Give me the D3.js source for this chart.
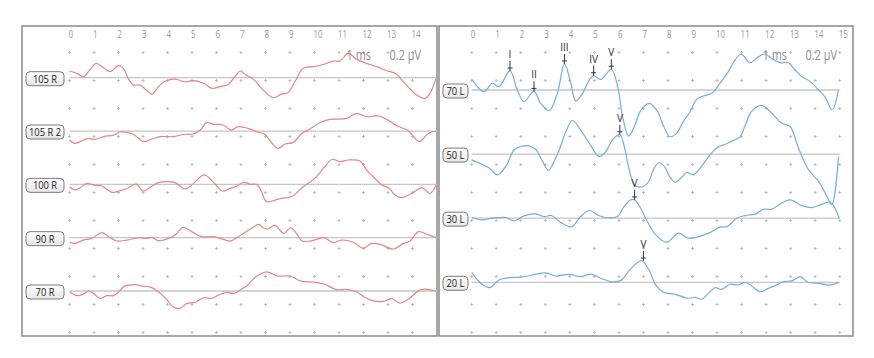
<!DOCTYPE html>
<html><head><meta charset="utf-8">
<script src="https://cdn.jsdelivr.net/npm/d3@7"></script>
<style>html,body{margin:0;padding:0;background:#fff;}svg{display:block;}</style>
</head><body>
<svg id="chart" width="874" height="358"></svg>
<script>
// ---------- DATA ----------
const leftLabels  = ["105 R", "105 R 2", "100 R", "90 R", "70 R"];
const rightLabels = ["70 L", "50 L", "30 L", "20 L"];
const leftTicks  = [0,1,2,3,4,5,6,7,8,9,10,11,12,13,14];
const rightTicks = [0,1,2,3,4,5,6,7,8,9,10,11,12,13,14,15];
const scaleText = ["1 ms", "0.2 µV"];

// times (ms) and amplitudes (µV) for each trace
const r105Time = [0,0.3,0.57,0.82,1.09,1.39,1.66,1.99,2.2,2.41,2.61,2.88,3.13,3.36,3.63,3.91,4.31,4.72,5.06,5.47,5.81,6.14,6.48,6.75,6.96,7.2,7.5,7.84,8.31,8.65,8.92,9.2,9.54,9.95,10.43,10.77,11.04,11.38,11.72,12.13,12.54,12.95,13.29,13.69,14.17,14.51,14.71,14.96];
const r105Amp  = [0.048,0.031,0.007,0.055,0.102,0.071,0.043,0.086,0.067,-0.01,-0.052,-0.052,-0.088,-0.117,-0.064,-0.024,-0.01,-0.029,-0.021,-0.04,-0.076,-0.064,-0.048,0.007,0.048,0.019,-0.01,-0.076,-0.143,-0.117,-0.105,-0.029,0.067,0.079,0.098,0.119,0.119,0.174,0.131,0.102,0.079,0.05,0.031,-0.04,-0.124,-0.148,-0.112,-0.005];

const r105bTime = [0,0.23,0.57,0.78,1.05,1.39,1.8,2.07,2.34,2.59,2.82,3.02,3.36,3.7,4.25,4.65,5.06,5.34,5.6,5.88,6.28,6.6,6.89,7.37,7.64,7.98,8.21,8.5,8.8,9.13,9.48,9.75,10.22,10.63,11.31,11.72,12.13,12.6,12.95,13.36,13.83,14.28,14.64,14.96];
const r105bAmp  = [-0.064,-0.088,-0.064,-0.052,-0.06,-0.04,-0.029,-0.005,-0.012,-0.021,-0.052,-0.076,-0.057,-0.04,-0.04,-0.024,-0.021,0.007,0.06,0.048,0.043,0.007,0.031,0.014,-0.005,-0.024,-0.076,-0.124,-0.093,-0.081,-0.017,0.007,0.059,0.083,0.09,0.126,0.102,0.109,0.083,0.038,0.002,-0.076,-0.017,0];

const r100Time = [0,0.23,0.44,0.71,0.98,1.32,1.73,2.07,2.41,2.72,3.02,3.32,3.63,3.97,4.31,4.72,5.06,5.5,5.88,6.26,6.56,6.83,7.1,7.4,7.64,7.84,8.04,8.52,9.13,9.54,10.01,10.42,10.72,11.04,11.38,11.86,12.13,12.47,12.75,13.02,13.29,13.56,13.97,14.38,14.52,14.72,14.97];
const r100Amp  = [-0.017,-0.04,-0.024,0.007,-0.005,-0.012,-0.057,-0.045,-0.024,0.002,-0.048,-0.017,0.012,0.019,0.012,-0.033,0.007,0.067,0.014,-0.048,-0.029,-0.012,0.014,0,0,-0.052,-0.124,-0.105,-0.081,-0.017,0.043,0.126,0.179,0.162,0.174,0.167,0.102,0.043,-0.005,-0.024,-0.076,-0.095,-0.064,-0.024,-0.04,-0.064,-0.005];

const r90Time = [0,0.23,0.57,0.91,1.32,1.6,1.94,2.34,2.82,3.16,3.36,3.63,3.97,4.31,4.65,4.99,5.4,5.88,6.28,6.56,6.83,7.1,7.43,7.73,7.9,8.1,8.38,8.58,8.75,9.03,9.26,9.5,9.81,10.08,10.4,10.76,11.1,11.58,11.99,12.33,12.74,13.22,13.63,13.9,14.25,14.59,14.97];
const r90Amp  = [-0.033,-0.041,-0.017,-0.005,0.036,0.007,-0.024,-0.017,0,-0.005,0.002,-0.021,-0.01,0.019,0.074,0.043,0.007,0.007,-0.012,-0.024,0,0.031,0.067,0.095,0.071,0.062,0.09,0.055,0.031,0.071,0.031,-0.024,-0.024,-0.012,0,-0.036,-0.017,-0.033,-0.076,-0.041,-0.052,-0.081,-0.041,-0.024,0.043,0.024,0];

const r70Time = [0,0.3,0.55,0.78,0.97,1.25,1.52,1.8,1.99,2.23,2.68,3.02,3.29,3.63,3.95,4.22,4.52,4.79,5.13,5.47,5.81,6.09,6.43,6.7,6.96,7.24,7.6,8.05,8.5,9.0,9.45,10.0,10.4,10.9,11.31,11.7,12.05,12.4,12.81,13.15,13.5,13.85,14.35,14.96];
const r70Amp  = [-0.005,-0.033,-0.024,0,-0.017,-0.052,-0.033,-0.033,-0.01,0.033,0.045,0.033,0.029,-0.005,-0.057,-0.112,-0.124,-0.088,-0.081,-0.048,-0.052,-0.029,-0.01,-0.017,0.007,0.038,0.1,0.136,0.107,0.107,0.07,0.064,0.05,0.01,0.012,-0.005,-0.045,-0.071,-0.074,-0.055,-0.086,-0.055,0.01,0];

const l70Time = [0,0.5,0.84,1.11,1.56,1.86,2.13,2.54,2.81,3.15,3.49,3.78,4.04,4.24,4.52,4.79,4.97,5.27,5.69,5.95,6.15,6.4,6.63,6.9,7.24,7.58,7.8,8.08,8.35,8.62,8.9,9.17,9.44,9.78,10.12,10.46,10.73,10.98,11.35,11.69,11.96,12.23,12.57,12.91,13.18,13.46,13.8,14.14,14.41,14.69,14.95];
const l70Amp  = [0.076,-0.012,0.048,0.024,0.136,0,-0.083,-0.01,-0.095,-0.148,-0.024,0.186,0.048,-0.079,-0.024,0.071,0.102,0.076,0.148,0.024,-0.19,-0.33,-0.26,-0.143,-0.095,-0.155,-0.25,-0.333,-0.31,-0.226,-0.155,-0.067,-0.043,-0.024,0.048,0.131,0.214,0.257,0.195,0.238,0.257,0.226,0.195,0.195,0.143,0.095,0.06,0,-0.052,-0.143,0];

const l50Time = [0,0.37,0.71,1.05,1.39,1.73,2.0,2.34,2.62,2.89,3.13,3.36,3.57,3.84,4.11,4.45,4.79,5.2,5.47,5.74,6.04,6.22,6.42,6.63,6.83,7.17,7.44,7.65,7.9,8.05,8.29,8.56,8.76,9.03,9.37,9.71,10.05,10.39,10.66,10.93,11.14,11.41,11.82,12.16,12.64,12.98,13.32,13.73,14.14,14.48,14.68,14.95];
const l50Amp  = [-0.041,-0.069,-0.1,-0.148,-0.088,0.031,0.054,0.059,0.031,-0.052,-0.117,-0.052,0.031,0.161,0.24,0.169,0.079,-0.017,0.019,0.102,0.138,0.054,-0.112,-0.219,-0.236,-0.207,-0.1,-0.06,-0.1,-0.155,-0.2,-0.167,-0.131,-0.148,-0.088,-0.005,0.05,0.074,0.098,0.121,0.202,0.305,0.348,0.305,0.221,0.197,0.043,-0.112,-0.195,-0.302,-0.362,-0.017];

const l30Time = [0,0.43,0.84,1.39,1.73,2.13,2.6,2.94,3.25,3.62,4.07,4.44,4.8,5.12,5.39,5.94,6.21,6.48,6.64,6.89,7.16,7.5,7.95,8.43,8.83,9.65,10.12,10.4,10.8,11.14,11.55,11.89,12.23,12.57,12.98,13.46,13.87,14.21,14.62,14.98];
const l30Amp  = [0.007,-0.012,0,0.005,-0.019,0.017,0.031,0.012,0.019,-0.029,-0.062,0.012,0.055,0.024,0.007,0.012,0.083,0.131,0.131,0.071,-0.024,-0.119,-0.171,-0.107,-0.143,-0.107,-0.064,-0.06,0,0.019,0.029,0.064,0.064,0.102,0.131,0.09,0.076,0.095,0.114,0];

const l20Time = [0,0.37,0.73,1.11,1.52,2.0,2.47,3.02,3.43,3.96,4.44,4.85,5.26,5.66,6.07,6.41,6.68,6.92,7.23,7.5,7.81,8.29,8.83,9.1,9.37,9.65,9.92,10.19,10.53,10.87,11.14,11.41,11.75,12.09,12.37,12.71,13.05,13.39,13.7,14.14,14.62,14.98];
const l20Amp  = [0.071,-0.007,-0.038,0.017,0.033,0.036,0.052,0.067,0.045,0.057,0.04,0.059,0.029,0.005,0.012,0.081,0.13,0.155,0.088,-0.019,-0.071,-0.086,-0.114,-0.107,-0.121,-0.079,-0.038,-0.05,-0.014,-0.019,0,-0.026,-0.067,-0.043,-0.024,0.005,0.01,0.04,0,-0.007,-0.019,0];

// wave markers
const markTrace = ["70 L","70 L","70 L","70 L","70 L","50 L","30 L","20 L"];
const markName  = ["I","II","III","IV","V","V","V","V"];
const markTime  = [1.56,2.54,3.78,4.97,5.69,6.04,6.64,7.0];
const markAmp   = [0.136,-0.01,0.186,0.102,0.148,0.138,0.131,0.152];

// ---------- DRAW ----------
const svg = d3.select("#chart");
const zip = (t, a) => t.map((v, i) => [v, a[i]]);
const leftSeries  = [zip(r105Time, r105Amp), zip(r105bTime, r105bAmp), zip(r100Time, r100Amp), zip(r90Time, r90Amp), zip(r70Time, r70Amp)];
const rightSeries = [zip(l70Time, l70Amp), zip(l50Time, l50Amp), zip(l30Time, l30Amp), zip(l20Time, l20Amp)];

const amp = d3.scaleLinear().domain([0, 0.2]).range([0, -28]);
const panels = [
  {x0: 22, x1: 437, x: d3.scaleLinear().domain([0, 15]).range([69.5, 437]),
   y: d3.scalePoint().domain(leftLabels).range([77.7, 291]), labels: leftLabels, series: leftSeries,
   ticks: leftTicks, color: "#e38686", boxX: 26, boxW: 38},
  {x0: 439, x1: 853, x: d3.scaleLinear().domain([0, 15]).range([471.7, 839.7]),
   y: d3.scalePoint().domain(rightLabels).range([90, 282.3]), labels: rightLabels, series: rightSeries,
   ticks: rightTicks, color: "#74aedb", boxX: 443, boxW: 25}
];
const panelTop = 26, panelBottom = 336;
const fontFam = "'Open Sans', 'Noto Sans', sans-serif";

function squeeze(sel, f) {
  sel.each(function() {
    const w = this.getComputedTextLength();
    d3.select(this).attr("textLength", w * f).attr("lengthAdjust", "spacingAndGlyphs");
  });
}

const defs = svg.append("defs");
const grad = defs.append("linearGradient").attr("id", "boxg").attr("x1", 0).attr("y1", 0).attr("x2", 0).attr("y2", 1);
grad.append("stop").attr("offset", "0%").attr("stop-color", "#ffffff");
grad.append("stop").attr("offset", "100%").attr("stop-color", "#e6e6e6");

panels.forEach((p, pi) => {
  const g = svg.append("g");
  g.append("rect").attr("x", p.x0).attr("y", panelTop).attr("width", p.x1 - p.x0).attr("height", panelBottom - panelTop)
    .attr("fill", "#fff").attr("stroke", "#8a8a8a").attr("stroke-width", 1.5);

  // grid dots
  const rows = d3.range(11).map(k => 52.5 + 28 * k);
  const dots = g.append("g").attr("stroke", "#bdbdbd").attr("stroke-width", 1);
  rows.forEach(ry => {
    p.ticks.forEach(t => {
      const cx = p.x(t);
      dots.append("path").attr("d", `M${cx-1.5},${ry}H${cx+1.5}M${cx},${ry-1.5}V${ry+1.5}`);
    });
  });

  // tick labels
  const axis = d3.axisTop(p.x).tickValues(p.ticks).tickSize(0).tickPadding(0).tickFormat(d3.format("d"));
  const ax = g.append("g").attr("transform", `translate(0,38)`).call(axis);
  ax.select(".domain").remove();
  ax.selectAll("text").attr("font-family", fontFam).attr("font-size", 10).attr("fill", "#9a9a9a")
    .attr("text-anchor", "start").attr("dx", -1.5).attr("dy", 0);
  squeeze(ax.selectAll("text"), 0.8);

  // scale text
  g.append("text").attr("x", p.x1 - 66).attr("y", 60).attr("text-anchor", "end")
    .attr("font-family", fontFam).attr("font-size", 14).attr("fill", "#8e8e8e").text(scaleText[0])
    .call(s => squeeze(s, 0.78));
  g.append("text").attr("x", p.x1 - 16).attr("y", 60).attr("text-anchor", "end")
    .attr("font-family", fontFam).attr("font-size", 14).attr("fill", "#8e8e8e").text(scaleText[1])
    .call(s => squeeze(s, 0.78));

  // baselines
  g.selectAll("line.base").data(p.labels).join("line")
    .attr("x1", p.x(0)).attr("x2", p.x(15)).attr("y1", d => p.y(d)).attr("y2", d => p.y(d))
    .attr("stroke", "#c6c6c6").attr("stroke-width", 1.3);

  // traces
  p.series.forEach((s, i) => {
    const base = p.y(p.labels[i]);
    const line = d3.line().x(d => p.x(d[0])).y(d => base + amp(d[1])).curve(d3.curveCatmullRom.alpha(0.5));
    g.append("path").attr("d", line(s)).attr("fill", "none").attr("stroke", p.color).attr("stroke-width", 1.2);
  });

  // label boxes
  p.labels.forEach(lab => {
    const by = p.y(lab);
    g.append("rect").attr("x", p.boxX).attr("y", by - 6).attr("width", p.boxW).attr("height", 14).attr("rx", 4)
      .attr("fill", "url(#boxg)").attr("stroke", "#7a7a7a").attr("stroke-width", 1);
    g.append("text").attr("x", p.boxX + p.boxW / 2).attr("y", by + 5).attr("text-anchor", "middle")
      .attr("font-family", fontFam).attr("font-size", 11).attr("fill", "#222").text(lab)
      .call(s => squeeze(s, 0.85));
  });

  // markers (right panel)
  if (pi === 1) {
    const mg = g.append("g").attr("opacity", 0.99);
    markName.forEach((nm, i) => {
      const mx = p.x(markTime[i]);
      const my = p.y(markTrace[i]) + amp(markAmp[i]);
      mg.append("path").attr("d", `M${mx},${my-10}V${my}M${mx-2.5},${my-3}H${mx+2.5}`)
        .attr("stroke", "#333").attr("stroke-width", 1).attr("fill", "none");
      mg.append("text").attr("x", mx).attr("y", my - 13).attr("text-anchor", "middle")
        .attr("font-family", fontFam).attr("font-size", 10).attr("fill", "#2b2b2b").text(nm);
    });
  }
});
</script>
</body></html>
